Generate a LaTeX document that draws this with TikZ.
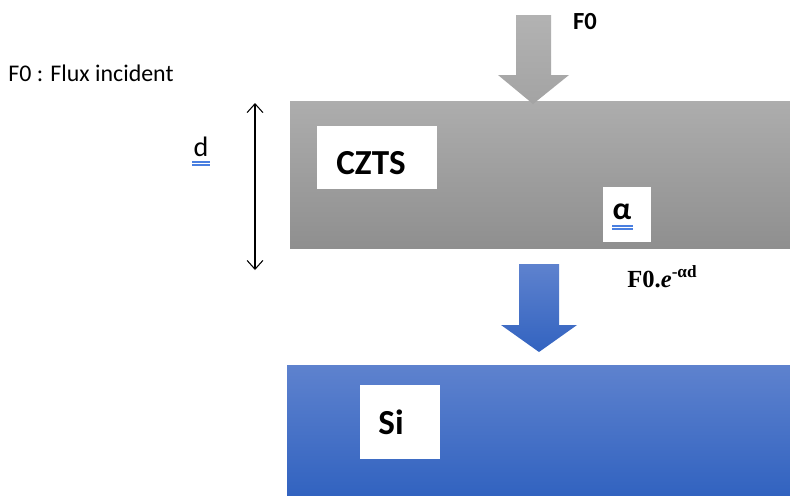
\documentclass[tikz,border=0pt]{standalone}
\usepackage{fontspec}
\setmainfont{Carlito}
\newfontfamily\cambria{Liberation Serif}
\usetikzlibrary{positioning,arrows.meta}

\definecolor{greytop}{HTML}{ADADAD}
\definecolor{greybot}{HTML}{8F8F8F}
\definecolor{bluetop}{HTML}{5E82CE}
\definecolor{bluebot}{HTML}{3263C0}
\definecolor{ulblue}{HTML}{4A7FE0}

\tikzset{
  whitebox/.style = {fill = white, inner sep = 0pt},
  lbl/.style = {inner sep = 0pt, font = \bfseries\fontsize{20}{24}\selectfont},
  uline/.style = {draw = ulblue, line width = 0.6pt}
}

\begin{document}
\begin{tikzpicture}[x = 0.02cm, y = -0.02cm]
  \useasboundingbox (0,0) rectangle (790,495);

  % layers
  \shade[top color = greytop, bottom color = greybot] (290,101) rectangle (790,248);
  \shade[top color = bluetop, bottom color = bluebot] (287,365) rectangle (790,495);

  % flux arrows
  \shade[top color = gray!60, bottom color = gray!72]
    (516,15) -- (551,15) -- (551,75) -- (569,75) -- (533,104) -- (498,75) -- (516,75) -- cycle;
  \shade[top color = bluetop, bottom color = bluebot]
    (519,264) -- (559,264) -- (559,325) -- (577,325) -- (539,352) -- (501,325) -- (519,325) -- cycle;

  % labels in the layers
  \node[whitebox, minimum width = 2.4cm, minimum height = 1.26cm] (cztsbox) at (377,157.5) {};
  \node[lbl] (czts) at (371,163) {CZTS};
  \node[whitebox, minimum width = 0.96cm, minimum height = 1.1cm] (alphabox) at (627,214.5) {};
  \node[inner sep = 0pt, font = \bfseries\fontsize{18}{20}\selectfont] (alpha) at (622,212) {α};
  \draw[uline] (612,226) -- (633,226);
  \draw[uline] (612,229) -- (633,229);
  \node[whitebox, minimum width = 1.6cm, minimum height = 1.48cm] (sibox) at (400,422) {};
  \node[lbl] (si) at (391,422) {Si};

  % thickness
  \coordinate (dtop) at (255,103);
  \coordinate (dbot) at (255,270);
  \draw[{Straight Barb[length=5pt,width=9pt]}-{Straight Barb[length=5pt,width=9pt]}, line width = 0.6pt] (dtop) -- (dbot);
  \node[inner sep = 0pt, font = \fontsize{16}{19}\selectfont] (d) at (201,147) {d};
  \draw[uline] (192,162) -- (210,162);
  \draw[uline] (192,165) -- (210,165);

  % texts
  \node[anchor = west, inner sep = 0pt, font = \fontsize{13.6}{16}\selectfont] (legend) at (8,73) {F0 : Flux incident};
  \node[inner sep = 0pt, font = \bfseries\fontsize{14}{17}\selectfont] (fzero) at (585,22) {F0};
  \node[anchor = base west, inner sep = 0pt, font = \cambria\bfseries\fontsize{14}{17}\selectfont] (fout) at (627,287) {F0.\textit{e}\textsuperscript{-αd}};

\end{tikzpicture}
\end{document}
